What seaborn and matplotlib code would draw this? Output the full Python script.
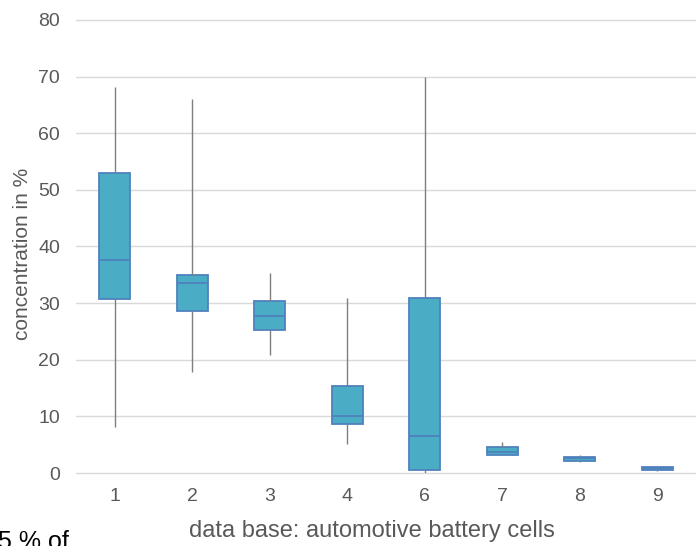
import numpy as np
import pandas as pd
import matplotlib
matplotlib.use("Agg")
import matplotlib.pyplot as plt
import seaborn as sns

# Categories (data base IDs) and five-number summaries
categories = ["1", "2", "3", "4", "6", "7", "8", "9"]
whisker_low = [8.1, 17.8, 20.8, 5.1, 0.0, 3.1, 2.0, 0.3]
q1_values = [30.7, 28.6, 25.3, 8.7, 0.5, 3.1, 2.2, 0.5]
medians = [37.6, 33.6, 27.7, 10.1, 6.5, 3.7, 2.6, 0.8]
q3_values = [53.0, 35.0, 30.4, 15.4, 30.9, 4.6, 2.9, 1.0]
whisker_high = [68.2, 66.0, 35.3, 30.9, 70.0, 5.5, 3.2, 1.0]

y_ticks = [0, 10, 20, 30, 40, 50, 60, 70, 80]

rows = []
for c, a, b, m, d, e in zip(categories, whisker_low, q1_values, medians, q3_values, whisker_high):
    for v in (a, b, m, d, e):
        rows.append({"db": c, "value": v})
df = pd.DataFrame(rows)

sns.set_theme(style="white")
plt.rcParams["font.family"] = ["Liberation Sans", "DejaVu Sans"]

fig = plt.figure(figsize=(6.96, 5.46), dpi=100)
ax = fig.add_axes([76 / 696, 1 - 473 / 546, 1 - 76 / 696, (473 - 20) / 546])

fill = "#4BACC6"
edge = "#4F81BD"
sns.boxplot(
    data=df, x="db", y="value", order=categories, ax=ax,
    whis=np.inf, width=0.4, color=fill, saturation=1,
    showcaps=False, showfliers=False,
    boxprops=dict(facecolor=fill, edgecolor=edge, linewidth=1.3),
    medianprops=dict(color=edge, linewidth=1.3),
    whiskerprops=dict(color="#7f7f7f", linewidth=1.0),
)

ax.set_ylim(0, 80)
ax.set_xlim(-0.5, 7.5)
ax.set_yticks(y_ticks)
ax.yaxis.grid(True, color="#d9d9d9", linewidth=1)
for gl in ax.get_ygridlines():
    gl.set_clip_on(False)
ax.set_axisbelow(True)
for s in ax.spines.values():
    s.set_visible(False)
ax.tick_params(axis="both", length=0, labelsize=14, labelcolor="#595959")
ax.tick_params(axis="y", pad=11.5)
ax.tick_params(axis="x", pad=11)

ax.set_xlabel("")
ax.set_ylabel("")
fig.text(372 / 696, 1 - 531 / 546, "data base: automotive battery cells",
         ha="center", va="center", fontsize=17, color="#595959")
fig.text(23 / 696, 1 - 254 / 546, "concentration in %", rotation=90,
         ha="center", va="center", fontsize=15, color="#595959")
fig.text(69 / 696, 1 - 530 / 546, "5 % of", ha="right", va="top",
         fontsize=18, color="#000000")

fig.savefig("out.png", dpi=100)
